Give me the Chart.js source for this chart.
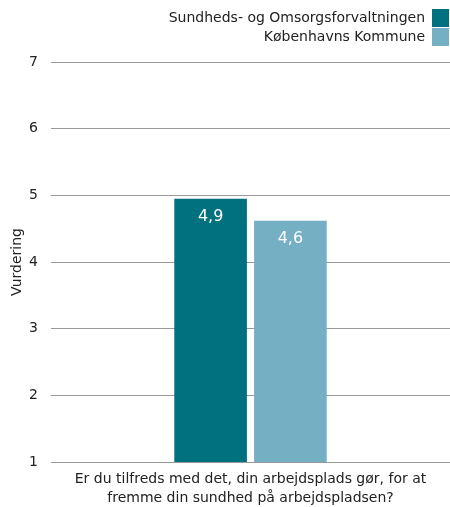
<!DOCTYPE html>
<html>
<head>
<meta charset="utf-8">
<script src="https://cdn.jsdelivr.net/npm/chart.js@4"></script>
<style>
  body { margin: 0; background: #fff; }
</style>
</head>
<body>
<canvas id="myChart" width="450" height="507"></canvas>
<script>
// Data
const categories = [['Er du tilfreds med det, din arbejdsplads gør, for at', 'fremme din sundhed på arbejdspladsen?']];
const seriesNames = ['Sundheds- og Omsorgsforvaltningen', 'Københavns Kommune'];
const sofValues = [4.95];
const kkValues = [4.62];
const yTicks = [1, 2, 3, 4, 5, 6, 7];

const colors = ['#02717f', '#74afc4'];
const fontFamily = '"DejaVu Sans", Verdana, sans-serif';

// draw the value inside the top of each bar (one decimal, cut off like the original)
const valueLabels = {
    id: 'valueLabels',
    afterDatasetsDraw(chart) {
        const ctx = chart.ctx;
        ctx.save();
        ctx.fillStyle = '#ffffff';
        ctx.font = '16px ' + fontFamily;
        ctx.textAlign = 'center';
        ctx.textBaseline = 'middle';
        chart.data.datasets.forEach((ds, i) => {
            chart.getDatasetMeta(i).data.forEach((bar, j) => {
                const v = Math.floor(ds.data[j] * 10) / 10;
                ctx.fillText(v.toFixed(1).replace('.', ','), bar.x, bar.y + 18);
            });
        });
        ctx.restore();
    }
};

// a bit more room under the legend
const legendSpace = {
    id: 'legendSpace',
    beforeInit(chart) {
        const fit = chart.legend.fit;
        chart.legend.fit = function () {
            fit.bind(chart.legend)();
            this.height += 6;
        };
    }
};

const ctx = document.getElementById('myChart').getContext('2d');

const config = {
    type: 'bar',
    data: {
        labels: categories,
        datasets: [
            {
                label: seriesNames[0],
                data: sofValues,
                backgroundColor: colors[0],
                categoryPercentage: 0.4,
                barPercentage: 0.91
            },
            {
                label: seriesNames[1],
                data: kkValues,
                backgroundColor: colors[1],
                categoryPercentage: 0.4,
                barPercentage: 0.91
            }
        ]
    },
    options: {
        responsive: false,
        animation: false,
        layout: { padding: { left: 0, right: 0, top: 8, bottom: 1 } },
        plugins: {
            legend: {
                position: 'top',
                align: 'start',
                rtl: true,
                labels: {
                    boxWidth: 17,
                    boxHeight: 18,
                    padding: 1,
                    color: '#222',
                    font: { family: fontFamily, size: 14 }
                }
            },
            tooltip: { enabled: false }
        },
        scales: {
            x: {
                grid: { display: false },
                border: { display: false },
                afterFit(axis) {
                    axis.height = 44;
                },
                ticks: {
                    color: '#222',
                    font: { family: fontFamily, size: 14, lineHeight: 1.35 },
                    padding: 0
                }
            },
            y: {
                min: 1,
                max: 7,
                afterBuildTicks(axis) {
                    axis.ticks = yTicks.map(v => ({ value: v }));
                },
                afterFit(axis) {
                    axis.width = 51;
                },
                grid: { color: '#999', drawTicks: false },
                border: { display: false },
                ticks: {
                    color: '#222',
                    font: { family: fontFamily, size: 14 },
                    padding: 13
                },
                title: {
                    display: true,
                    text: 'Vurdering',
                    color: '#222',
                    font: { family: fontFamily, size: 14 },
                    padding: { top: 9, bottom: 0 }
                }
            }
        }
    },
    plugins: [valueLabels, legendSpace]
};

const myChart = new Chart(ctx, config);
</script>
</body>
</html>
